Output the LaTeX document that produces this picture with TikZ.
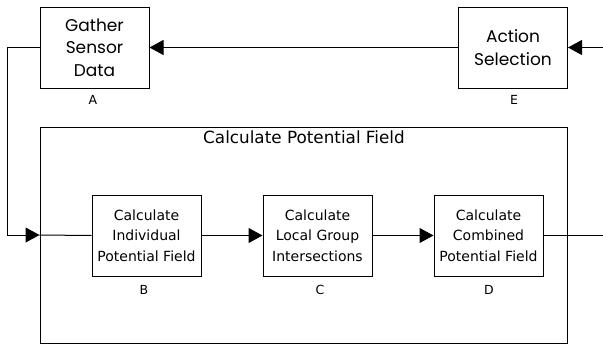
\documentclass[tikz,border=0pt]{standalone}
\usepackage{fontspec}
\setmainfont{DejaVu Sans}
\newfontfamily\headfont{Poppins}
\usetikzlibrary{arrows.meta}

\tikzset{
  blockbox/.style={draw, line width=1pt, minimum width=109pt, minimum height=81pt,
    inner sep=0pt, align=center},
  toptext/.style={font=\headfont\fontsize{17}{22.5}\selectfont},
  lowtext/.style={font=\fontsize{14}{20.5}\selectfont},
  tagtext/.style={font=\fontsize{12.5}{14}\selectfont},
}

\begin{document}
\begin{tikzpicture}[x=1pt, y=-1pt, line width=1pt,
    >={Triangle[length=14pt, width=15pt]}]
  \useasboundingbox (0,0) rectangle (603,346);
  % 上段のブロック
  \node[blockbox, toptext] (gather) at (94.5,47.5) {Gather\\Sensor\\Data};
  \node[blockbox, toptext] (action) at (513,47.5) {Action\\Selection};
  \node[tagtext] (tagA) at (93,100) {A};
  \node[tagtext] (tagE) at (514,100) {E};
  % 外枠
  \node[draw, line width=1pt, minimum width=527pt, minimum height=216pt,
    inner sep=0pt] (field) at (303.5,235) {};
  \node[font=\fontsize{16.8}{20}\selectfont, anchor=base] (fieldtitle) at (304,143)
    {Calculate Potential Field};
  % 下段のブロック
  \node[blockbox, lowtext] (indiv) at (146.5,235.5) {Calculate\\Individual\\Potential Field};
  \node[blockbox, lowtext] (group) at (317.5,235.5) {Calculate\\Local Group\\Intersections};
  \node[blockbox, lowtext] (comb) at (488.5,235.5) {Calculate\\Combined\\Potential Field};
  \foreach \n/\t/\x in {tagB/B/144, tagC/C/320, tagD/D/489} {
    \node[tagtext] (\n) at (\x,290) {\t};
  }
  % 接続
  \coordinate (inright) at (603,47.5);
  \coordinate (outright) at (603,235.5);
  \draw[->] (inright) -- (action.east);
  \draw[->] (action.west) -- (gather.east);
  \draw[->] (gather.west) -- ++(-32,0) |- (field.west);
  \draw (field.west) -- (indiv.west);
  \draw[->] (indiv.east) -- (group.west);
  \draw[->] (group.east) -- (comb.west);
  \draw (comb.east) -- (outright);
\end{tikzpicture}
\end{document}
